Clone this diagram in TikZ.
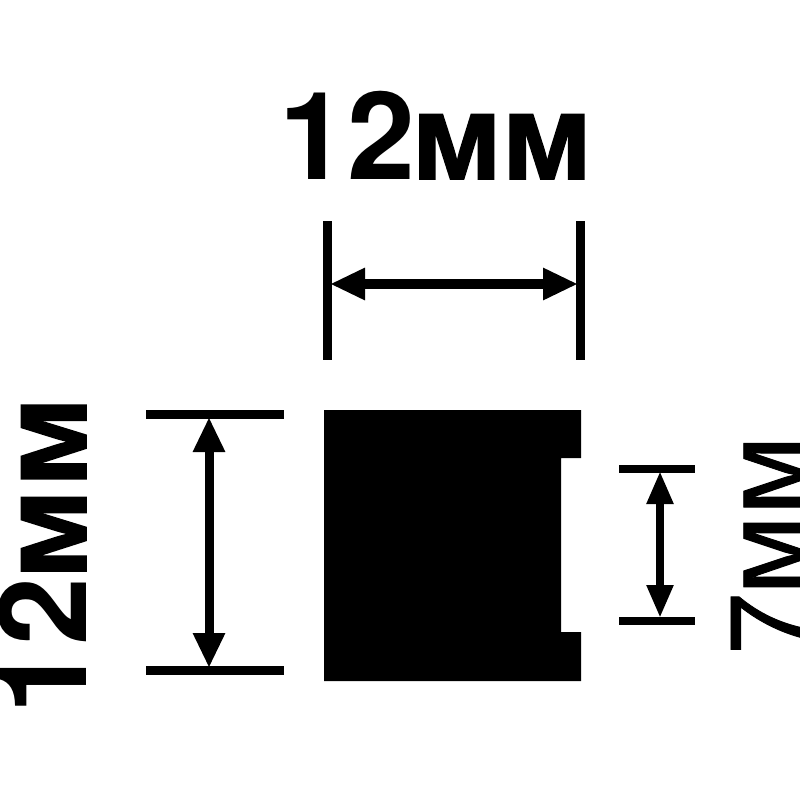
\documentclass[tikz,border=0pt]{standalone}
\usepackage{fontspec}
\setmainfont{Liberation Sans}
\newfontfamily\digitbold[BoldFont={* Bold}]{TeX Gyre Heros}
\newfontfamily\digitreg[FakeBold=0.8]{TeX Gyre Heros}
\newfontfamily\letterbold[FakeBold=1.6]{Liberation Sans Bold}
\newfontfamily\letterreg[FakeBold=0.8]{Liberation Sans}
\usetikzlibrary{arrows.meta}
\newcommand{\boldtext}[3]{{\digitbold\bfseries 1\kern#1 2}\kern#2{\letterbold м\kern#3 м}}
\tikzset{
  x=1pt,y=-1pt,
  boldlabel/.style={inner sep=0pt,font=\fontsize{122}{122}\selectfont},
  thinlabel/.style={inner sep=0pt,font=\fontsize{116}{116}\selectfont},
  tick/.style={line width=#1},
  dimbig/.style={line width=#1,{Triangle[length=35pt,width=30pt]}-{Triangle[length=35pt,width=30pt]}},
  dimsmall/.style={line width=#1,{Triangle[length=33pt,width=25pt]}-{Triangle[length=33pt,width=25pt]}}
}
\begin{document}
\begin{tikzpicture}
\path[use as bounding box] (0,0) rectangle (800,800);
\clip (0,0) rectangle (800,800);
\fill[white] (0,0) rectangle (800,800);
% profile
\fill[black] (324,410) -| (581,458) -| (561,632) -| (581,681) -| cycle;
% top dimension
\coordinate (ta) at (327,221); \coordinate (tb) at (327,360);
\coordinate (tc) at (580,221); \coordinate (td) at (580,360);
\coordinate (te) at (330,284); \coordinate (tf) at (578,284);
\draw[tick=9pt] (ta) -- (tb);
\draw[tick=9pt] (tc) -- (td);
\draw[dimbig=10pt] (te) -- (tf);
% left dimension
\coordinate (la) at (146,414); \coordinate (lb) at (284,414);
\coordinate (lc) at (146,670); \coordinate (ld) at (284,670);
\coordinate (le) at (209,417); \coordinate (lf) at (209,668);
\draw[tick=9pt] (la) -- (lb);
\draw[tick=9pt] (lc) -- (ld);
\draw[dimbig=9pt] (le) -- (lf);
% right dimension
\coordinate (ra) at (619,469); \coordinate (rb) at (695,469);
\coordinate (rc) at (619,621); \coordinate (rd) at (695,621);
\coordinate (re) at (660,471); \coordinate (rf) at (660,618);
\draw[tick=8pt] (ra) -- (rb);
\draw[tick=8pt] (rc) -- (rd);
\draw[dimsmall=8pt] (re) -- (rf);
% labels
\node[boldlabel,anchor=base] (toplabel) at (436,179) {\boldtext{0pt}{-4pt}{0pt}};
\node[boldlabel,anchor=base,rotate=90] (leftlabel) at (86,555.5) {\boldtext{1pt}{-2pt}{2pt}};
\node[thinlabel,anchor=base,rotate=90] (rightlabel) at (805,545) {\raisebox{-3pt}{\digitreg\fontsize{111}{111}\selectfont 7}\kern-2pt{\letterreg мм}};
\end{tikzpicture}
\end{document}
